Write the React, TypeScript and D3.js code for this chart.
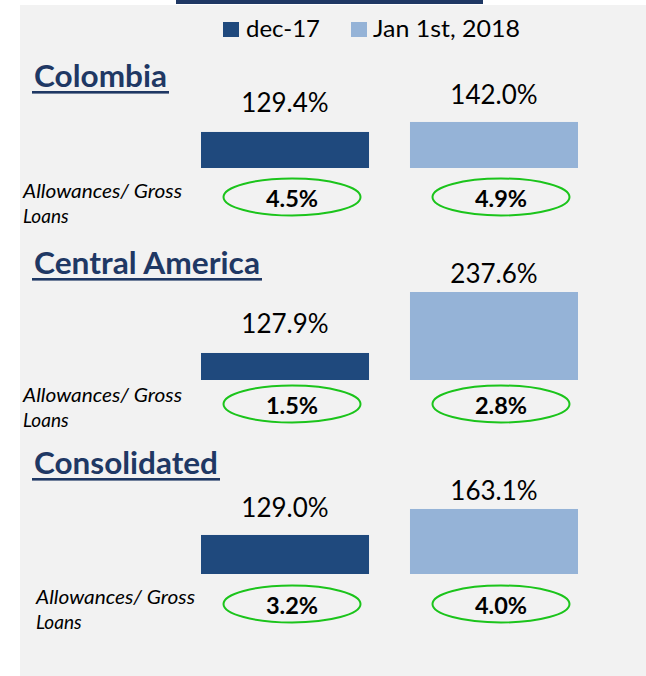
import React from "react";
import * as d3 from "d3";

const categories = ["Colombia", "Central America", "Consolidated"];
const seriesNames = ["dec-17", "Jan 1st, 2018"];
const dec17 = [129.4, 127.9, 129.0];
const jan18 = [142.0, 237.6, 163.1];
const allowDec = [4.5, 1.5, 3.2];
const allowJan = [4.9, 2.8, 4.0];
const axisMin = [84, 79.3, 77.8];
const axisMax = [210, 259.2, 209];
const ratioLabel = ["Allowances/ Gross", "Loans"];

// layout
const W = 646;
const H = 676;
const FONT = "Lato, 'Open Sans', sans-serif";
const DARK = "#1F497D";
const LIGHT = "#95B3D7";
const NAVY = "#1F3864";
const GREEN = "#1BC41B";
const plotH = 100;
const barBottom = [168, 380, 574];
const titleBase = [87, 274, 474];
const titleWidth = [133, 226, 184];
const labelGap = [[20, 18], [20, 9], [18, 9]];
const ellipseCy = [197, 404, 604];
const allowX = [23, 23, 36];
const allowBase = [198, 402, 604];

export default function App() {
  const x = d3.scaleBand<string>().domain(seriesNames).range([201, 578]).paddingInner(0.196).paddingOuter(0);
  const colors = [DARK, LIGHT];
  const fmt = (v: number) => v.toFixed(1) + "%";

  return (
    <svg width={W} height={H} style={{ position: "absolute", left: 0, top: 0 }} fontFamily={FONT}>
      <rect x={0} y={0} width={W} height={H} fill="#ffffff" />
      <rect x={20} y={5} width={W - 20} height={H - 5} fill="#F2F2F2" />
      {/* cut-off heading underline */}
      <rect x={176} y={0} width={307} height={4} fill={NAVY} />
      {/* legend */}
      <g>
        <rect x={223} y={22} width={16} height={15} fill={DARK} />
        <text x={246} y={37} fontSize={23} fill="#000" textLength={74} lengthAdjust="spacingAndGlyphs">{seriesNames[0]}</text>
        <rect x={351} y={22} width={16} height={15} fill={LIGHT} />
        <text x={373} y={37} fontSize={23} fill="#000" textLength={147} lengthAdjust="spacingAndGlyphs">{seriesNames[1]}</text>
      </g>
      {categories.map((cat, i) => {
        const y = d3.scaleLinear().domain([axisMin[i], axisMax[i]]).range([barBottom[i], barBottom[i] - plotH]);
        const vals = [dec17[i], jan18[i]];
        const allows = [allowDec[i], allowJan[i]];
        return (
          <g key={cat}>
            <text x={34} y={titleBase[i]} fontSize={31} fontWeight={700} fill={NAVY} textLength={titleWidth[i]} lengthAdjust="spacingAndGlyphs">{cat}</text>
            <rect x={32} y={titleBase[i] + 4} width={titleWidth[i] + 4} height={2.6} fill={NAVY} />
            {seriesNames.map((s, j) => {
              const bx = x(s)!;
              const bw = x.bandwidth();
              const top = y(vals[j]);
              const cx = bx + bw / 2;
              return (
                <g key={s}>
                  <rect x={bx} y={top} width={bw} height={barBottom[i] - top} fill={colors[j]} />
                  <text x={cx} y={top - labelGap[i][j]} fontSize={26} textAnchor="middle" fill="#000">{fmt(vals[j])}</text>
                  <ellipse cx={cx + 7} cy={ellipseCy[i]} rx={68.5} ry={18.5} fill="none" stroke={GREEN} strokeWidth={2} />
                  <text x={cx + 7} y={ellipseCy[i] + 9.5} fontSize={23.5} fontWeight={700} textAnchor="middle" fill="#000">{fmt(allows[j])}</text>
                </g>
              );
            })}
            <text x={allowX[i]} y={allowBase[i]} fontSize={19} fontStyle="italic" fill="#000" textLength={159} lengthAdjust="spacingAndGlyphs">{ratioLabel[0]}</text>
            <text x={allowX[i]} y={allowBase[i] + 25} fontSize={19} fontStyle="italic" fill="#000">{ratioLabel[1]}</text>
          </g>
        );
      })}
    </svg>
  );
}
